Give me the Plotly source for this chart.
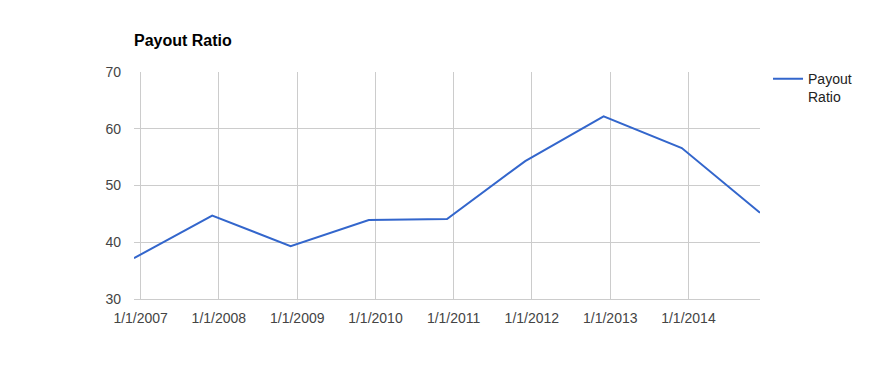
import plotly.graph_objects as go

dates = ["2006-12-01", "2007-12-01", "2008-12-01", "2009-12-01", "2010-12-01",
         "2011-12-01", "2012-12-01", "2013-12-01", "2014-12-01"]
payout_ratio = [37.2, 44.7, 39.3, 43.9, 44.1, 54.3, 62.2, 56.6, 45.2]

x_tick_vals = ["2007-01-01", "2008-01-01", "2009-01-01", "2010-01-01",
               "2011-01-01", "2012-01-01", "2013-01-01", "2014-01-01"]
x_tick_text = ["1/1/2007", "1/1/2008", "1/1/2009", "1/1/2010",
               "1/1/2011", "1/1/2012", "1/1/2013", "1/1/2014"]
y_tick_vals = [30, 40, 50, 60, 70]

FONT = "Arial, 'Liberation Sans', sans-serif"

fig = go.Figure()
fig.add_trace(go.Scatter(
    x=dates, y=payout_ratio, mode="lines", name="Payout<br>Ratio",
    line=dict(color="#3366cc", width=2),
))

fig.update_layout(
    width=893, height=371,
    margin=dict(l=133.5, r=133, t=72, b=72),
    paper_bgcolor="white", plot_bgcolor="white",
    font=dict(family=FONT, size=14, color="#444"),
    title=dict(text="<b>Payout Ratio</b>", font=dict(family=FONT, size=16, color="#000"),
               x=0, xref="paper", xanchor="left", y=1 - 40 / 371, yref="container", yanchor="middle"),
    showlegend=True,
    legend=dict(x=1.0128, xanchor="left", y=1.039, yanchor="top", valign="top",
                font=dict(family=FONT, size=14, color="#222"), bgcolor="rgba(0,0,0,0)"),
    xaxis=dict(range=[dates[0], dates[-1]], tickmode="array", tickvals=x_tick_vals,
               ticktext=x_tick_text, showgrid=True, gridcolor="#cccccc", gridwidth=1,
               zeroline=False, showline=True, linecolor="#cccccc", linewidth=1,
               ticks="", ticklabelstandoff=6,
               tickfont=dict(color="#444", size=14)),
    yaxis=dict(range=[30, 70], tickmode="array", tickvals=y_tick_vals,
               showgrid=True, gridcolor="#cccccc", gridwidth=1, zeroline=False,
               showline=False, ticks="", ticklabelstandoff=12,
               tickfont=dict(color="#444", size=14)),
)

fig.write_html("out.html")
